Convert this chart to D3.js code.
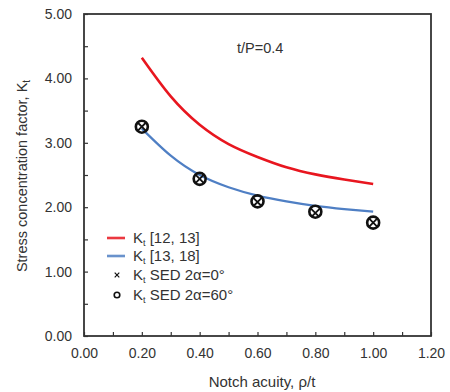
<!DOCTYPE html>
<html>
<head>
<meta charset="utf-8">
<script src="https://cdn.jsdelivr.net/npm/d3@7"></script>
<style>
  html, body { margin: 0; padding: 0; background: #fff; }
  svg { display: block; font-family: "Liberation Sans", Arial, sans-serif; }
</style>
</head>
<body>
<svg id="chart" width="450" height="392"></svg>
<script>
// Notch acuity values (rho/t) for the analytic curves
const curveX = [0.2, 0.3, 0.4, 0.5, 0.6, 0.7, 0.8, 0.9, 1.0];
// Kt from refs [12, 13]
const ktRef1213 = [4.32, 3.72, 3.28, 2.98, 2.78, 2.62, 2.51, 2.43, 2.36];
// Kt from refs [13, 18]
const ktRef1318 = [3.22, 2.80, 2.50, 2.31, 2.18, 2.09, 2.02, 1.97, 1.93];
// SED-based Kt points (both opening angles)
const sedX = [0.2, 0.4, 0.6, 0.8, 1.0];
const sedAlpha0 = [3.25, 2.44, 2.08, 1.91, 1.76];
const sedAlpha60 = [3.25, 2.44, 2.09, 1.93, 1.76];
// Axis tick labels
const xTicks = [0, 0.2, 0.4, 0.6, 0.8, 1.0, 1.2];
const yTicks = [0, 1, 2, 3, 4, 5];

const svg = d3.select("#chart");
const plotL = 84, plotR = 431, plotT = 14, plotB = 336;

const x = d3.scaleLinear().domain([0, 1.2]).range([plotL, plotR]);
const y = d3.scaleLinear().domain([0, 5]).range([plotB, plotT]);

const ink = "#333";

// plot frame
svg.append("rect")
  .attr("x", plotL).attr("y", plotT)
  .attr("width", plotR - plotL).attr("height", plotB - plotT)
  .attr("fill", "none").attr("stroke", ink).attr("stroke-width", 1.8);

// x axis: inward ticks every 0.1, labels every 0.2
const xAxis = d3.axisBottom(x)
  .tickValues(d3.range(0, 1.21, 0.1))
  .tickSizeInner(-4).tickSizeOuter(0)
  .tickFormat(d => xTicks.some(t => Math.abs(t - d) < 1e-6) ? d3.format(".2f")(d) : "");
const gx = svg.append("g").attr("transform", `translate(0,${plotB})`).call(xAxis);
gx.select(".domain").remove();
gx.selectAll(".tick line").attr("stroke", ink).attr("stroke-width", 1.2);
gx.selectAll(".tick text").attr("fill", ink).attr("font-size", 14)
  .attr("font-family", "Liberation Sans, Arial, sans-serif").attr("y", 12);

// y axis: inward ticks every 0.5, labels every 1
const yAxis = d3.axisLeft(y)
  .tickValues(d3.range(0, 5.01, 0.5))
  .tickSizeInner(-4).tickSizeOuter(0)
  .tickFormat(d => yTicks.includes(d) ? d3.format(".2f")(d) : "");
const gy = svg.append("g").attr("transform", `translate(${plotL},0)`).call(yAxis);
gy.select(".domain").remove();
gy.selectAll(".tick line").attr("stroke", ink).attr("stroke-width", 1.2);
gy.selectAll(".tick text").attr("fill", ink).attr("font-size", 14)
  .attr("font-family", "Liberation Sans, Arial, sans-serif").attr("x", -12);

// axis titles
svg.append("text")
  .attr("x", 262).attr("y", 387)
  .attr("text-anchor", "middle").attr("font-size", 15).attr("fill", ink)
  .text("Notch acuity, ρ/t");

const yt = svg.append("text")
  .attr("transform", `translate(27,176) rotate(-90)`)
  .attr("text-anchor", "middle").attr("font-size", 14.5).attr("fill", ink);
yt.append("tspan").text("Stress concentration factor, K");
yt.append("tspan").attr("font-size", 10).attr("dy", 3).text("t");

// annotation
svg.append("text")
  .attr("x", 237).attr("y", 53).attr("font-size", 14.5).attr("fill", ink)
  .text("t/P=0.4");

// curves
const line = d3.line()
  .x((d, i) => x(curveX[i]))
  .y(d => y(d))
  .curve(d3.curveNatural);

svg.append("path").datum(ktRef1213)
  .attr("d", line).attr("fill", "none")
  .attr("stroke", "#e8161f").attr("stroke-width", 2.6);

svg.append("path").datum(ktRef1318)
  .attr("d", line).attr("fill", "none")
  .attr("stroke", "#4f7fc4").attr("stroke-width", 2.2);

// SED markers: circles (2α=60°) overlaid with crosses (2α=0°)
svg.append("g").selectAll("circle")
  .data(sedAlpha60)
  .join("circle")
  .attr("cx", (d, i) => x(sedX[i])).attr("cy", d => y(d))
  .attr("r", 6).attr("fill", "none")
  .attr("stroke", "#111").attr("stroke-width", 2.6);

const cross = (g, cx, cy, s) => g.append("path")
  .attr("d", `M${cx - s},${cy - s}L${cx + s},${cy + s}M${cx - s},${cy + s}L${cx + s},${cy - s}`)
  .attr("stroke", "#111").attr("stroke-width", 1.8).attr("fill", "none");

const gc = svg.append("g");
sedAlpha0.forEach((d, i) => cross(gc, x(sedX[i]), y(d), 4.2));

// legend
const legend = svg.append("g");
const rows = [
  { label: "[12, 13]", kind: "line", color: "#e8161f" },
  { label: "[13, 18]", kind: "line", color: "#4f7fc4" },
  { label: "SED 2α=0°", kind: "x" },
  { label: "SED 2α=60°", kind: "o" }
];
const legY = [243, 261, 280, 300];
rows.forEach((r, i) => {
  const ly = legY[i];
  if (r.kind === "line") {
    legend.append("line")
      .attr("x1", 107).attr("x2", 125).attr("y1", ly - 5).attr("y2", ly - 5)
      .attr("stroke", r.color).attr("stroke-width", 2.6).attr("opacity", 0.85);
  } else if (r.kind === "x") {
    cross(legend, 117, ly - 5, 2.3).attr("stroke-width", 1.2);
  } else {
    legend.append("circle").attr("cx", 117).attr("cy", ly - 5).attr("r", 2.8)
      .attr("fill", "none").attr("stroke", "#111").attr("stroke-width", 1.6);
  }
  const t = legend.append("text")
    .attr("x", 133).attr("y", ly).attr("font-size", 15).attr("fill", ink);
  t.append("tspan").text("K");
  t.append("tspan").attr("font-size", 9).attr("dy", 3).text("t");
  t.append("tspan").attr("dy", -3).text(" " + r.label);
});
</script>
</body>
</html>
